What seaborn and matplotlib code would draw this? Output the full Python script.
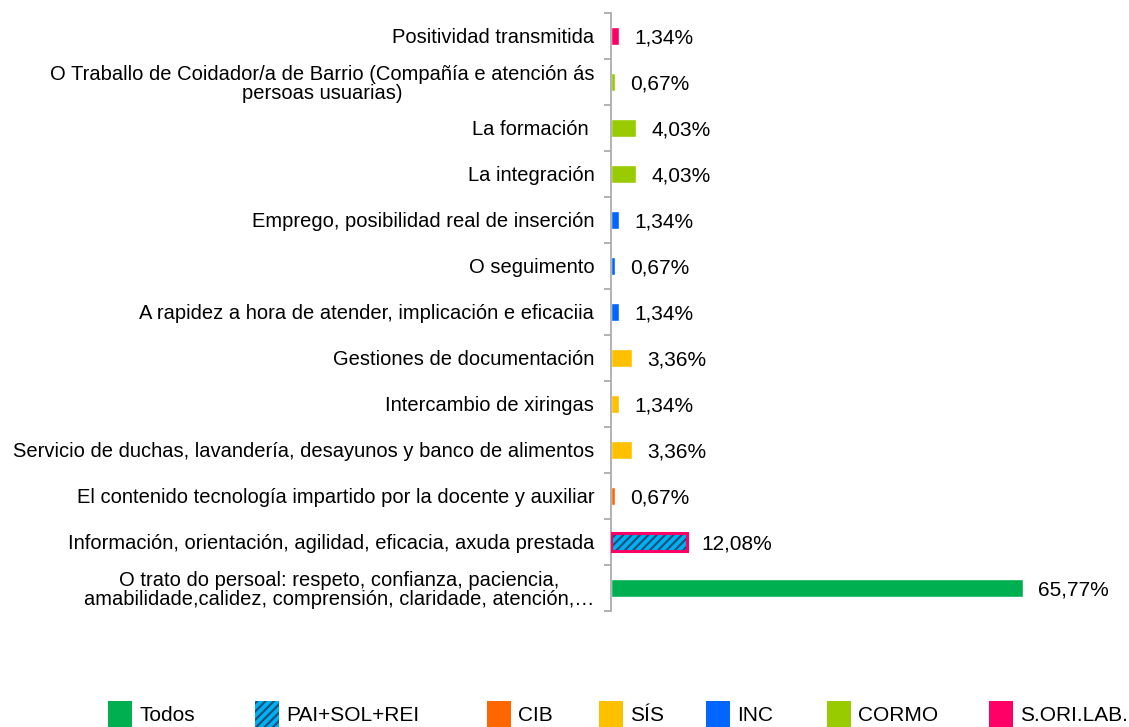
import matplotlib
matplotlib.use("Agg")
import matplotlib.pyplot as plt
from matplotlib.patches import Patch, Rectangle
from matplotlib.ticker import FixedLocator, NullLocator
import seaborn as sns
import pandas as pd

# categories, top to bottom
labels = [
    "Positividad transmitida",
    "O Traballo de Coidador/a de Barrio (Compañía e atención ás\npersoas usuarias)",
    "La formación ",
    "La integración",
    "Emprego, posibilidad real de inserción",
    "O seguimento",
    "A rapidez a hora de atender, implicación e eficaciia",
    "Gestiones de documentación",
    "Intercambio de xiringas",
    "Servicio de duchas, lavandería, desayunos y banco de alimentos",
    "El contenido tecnología impartido por la docente y auxiliar",
    "Información, orientación, agilidad, eficacia, axuda prestada",
    "O trato do persoal: respeto, confianza, paciencia,\namabilidade,calidez, comprensión, claridade, atención,…",
]
values = [1.34, 0.67, 4.03, 4.03, 1.34, 0.67, 1.34, 3.36, 1.34, 3.36, 0.67, 12.08, 65.77]
groups = ["S.ORI.LAB.", "CORMO", "CORMO", "CORMO", "INC", "INC", "INC",
          "SÍS", "SÍS", "SÍS", "CIB", "PAI+SOL+REI", "Todos"]

group_order = ["Todos", "PAI+SOL+REI", "CIB", "SÍS", "INC", "CORMO", "S.ORI.LAB."]
group_colors = ["#00B050", "#00B0F0", "#FF6600", "#FFC000", "#0066FF", "#99CC00", "#FF0066"]

df = pd.DataFrame({"label": labels, "value": values, "group": groups})

sns.set_theme(style="white")
plt.rcParams["font.family"] = ["Liberation Sans", "DejaVu Sans"]
plt.rcParams["hatch.linewidth"] = 1.5

fig = plt.figure(figsize=(11.29, 7.27), dpi=100)
ax = fig.add_axes([0.5412, 0.1596, 0.388, 0.8226])

sns.barplot(data=df, x="value", y="label", hue="group", hue_order=group_order,
            palette=group_colors, dodge=False, width=0.4, saturation=1,
            legend=False, ax=ax)

# hatched bar with pink border
pai = group_order.index("PAI+SOL+REI")
for bar in ax.containers[pai]:
    bar.set_hatch("////")
    bar.set_edgecolor("#1F4E79")
    bar.set_linewidth(0)
    ax.add_patch(Rectangle(bar.get_xy(), bar.get_width(), bar.get_height(),
                           fill=False, edgecolor="#FF0066", linewidth=2.2, zorder=3))

for i, v in enumerate(values):
    ax.text(v + 2.4, i, f"{v:.2f}%".replace(".", ","), va="center_baseline",
            ha="left", fontsize=15, color="black")

ax.set_xlim(0, 70)
ax.set_ylim(len(labels) - 0.5, -0.5)
ax.set_xlabel("")
ax.set_ylabel("")
ax.xaxis.set_major_locator(NullLocator())
for s in ["top", "right", "bottom"]:
    ax.spines[s].set_visible(False)
ax.spines["left"].set_color("#A6A6A6")
ax.spines["left"].set_linewidth(1.2)

ax.yaxis.set_minor_locator(FixedLocator([i - 0.5 for i in range(len(labels) + 1)]))
ax.tick_params(axis="y", which="major", length=0, pad=12, labelsize=14.5, labelcolor="black")
ax.tick_params(axis="y", which="minor", length=5, width=1.2, color="#A6A6A6", left=True)
for t in ax.get_yticklabels():
    t.set_multialignment("center")
    t.set_linespacing(1.0)

# legend entries, placed one by one (uneven spacing as in the original)
legend_x = [108, 255, 487, 599, 706, 827, 989]
for g, c, xp in zip(group_order, group_colors, legend_x):
    if g == "PAI+SOL+REI":
        h = Patch(facecolor=c, edgecolor="#1F4E79", hatch="////", linewidth=0)
    else:
        h = Patch(facecolor=c, linewidth=0)
    fig.legend(handles=[h], labels=[g], loc="upper left",
               bbox_to_anchor=(xp / 1129, 1 - 701 / 727), frameon=False,
               fontsize=15, handlelength=1.15, handleheight=1.6,
               handletextpad=0.35, borderpad=0, borderaxespad=0,
               labelcolor="black")

fig.savefig("out.png", dpi=100)
